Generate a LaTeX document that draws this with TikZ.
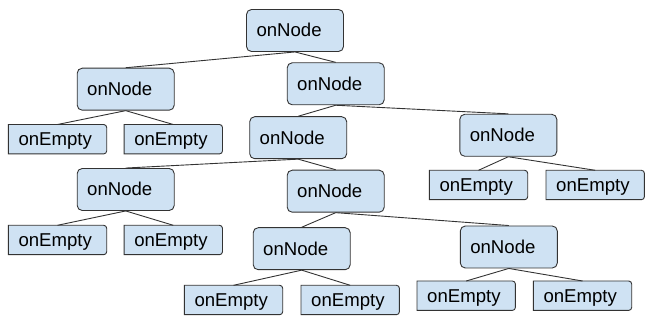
\documentclass[tikz,border=0pt]{standalone}
\usepackage{fontspec}
\setmainfont{Liberation Sans}
\usetikzlibrary{backgrounds}
\definecolor{boxfill}{HTML}{CFE2F3}
\definecolor{boxline}{HTML}{333333}
\begin{document}
\begin{tikzpicture}[x=1pt,y=-1pt,
  every node/.style={font=\fontsize{18.6}{20}\selectfont, text height=13pt, text depth=0pt,
    inner xsep=10pt, inner ysep=0pt, align=left},
  callbox/.style={draw=boxline, fill=boxfill, line width=0.9pt, rounded corners=5pt,
    text width=77pt, minimum height=42pt},
  leafbox/.style={text width=78pt, minimum height=29pt},
  leafshape/.style={draw=boxline, fill=boxfill, line width=0.9pt},
  link/.style={draw=boxline, line width=0.9pt}]
\useasboundingbox (0,0) rectangle (661,336);

% inner calls
\node[callbox] (root) at (295,30.5) {onNode};
\node[callbox] (n1) at (125.7,89.2) {onNode};
\node[callbox] (n2) at (335.7,83.8) {onNode};
\node[callbox] (n3) at (298.2,137.7) {onNode};
\node[callbox] (n4) at (508.3,135.3) {onNode};
\node[callbox] (n5) at (125.7,189.5) {onNode};
\node[callbox] (n6) at (335.7,191.2) {onNode};
\node[callbox] (n7) at (301.7,248.7) {onNode};
\node[callbox] (n8) at (508.8,247) {onNode};

% empty leaves
\node[leafbox] (e1) at (57.5,139.2) {onEmpty};
\node[leafbox] (e2) at (173.3,139.2) {onEmpty};
\node[leafbox] (e3) at (478.5,185) {onEmpty};
\node[leafbox] (e4) at (595.2,185) {onEmpty};
\node[leafbox] (e5) at (57.5,240) {onEmpty};
\node[leafbox] (e6) at (173.3,240) {onEmpty};
\node[leafbox] (e7) at (233.5,300) {onEmpty};
\node[leafbox] (e8) at (350.2,300) {onEmpty};
\node[leafbox] (e9) at (466.2,295.7) {onEmpty};
\node[leafbox] (e10) at (582.5,295.7) {onEmpty};

\begin{scope}[on background layer]
  % leaf outlines: square on the left, rounded on the right
  \foreach \n in {e1,e2,e3,e4,e5,e6,e7,e8,e9,e10}
    \path[leafshape] (\n.south west) -- (\n.north west)
      -- ([xshift=-3pt]\n.north east) arc[start angle=90,end angle=0,radius=3pt]
      -- ([yshift=3pt]\n.south east) arc[start angle=0,end angle=-90,radius=3pt]
      -- cycle;
  % tree links
  \foreach \p/\c in {root/n1,root/n2,n1/e1,n1/e2,n2/n3,n2/n4,n3/n5,n3/n6,
                     n4/e3,n4/e4,n5/e5,n5/e6,n6/n7,n6/n8,n7/e7,n7/e8,n8/e9,n8/e10}
    \path[link] (\p.south) -- (\c.north);
\end{scope}
\end{tikzpicture}
\end{document}
